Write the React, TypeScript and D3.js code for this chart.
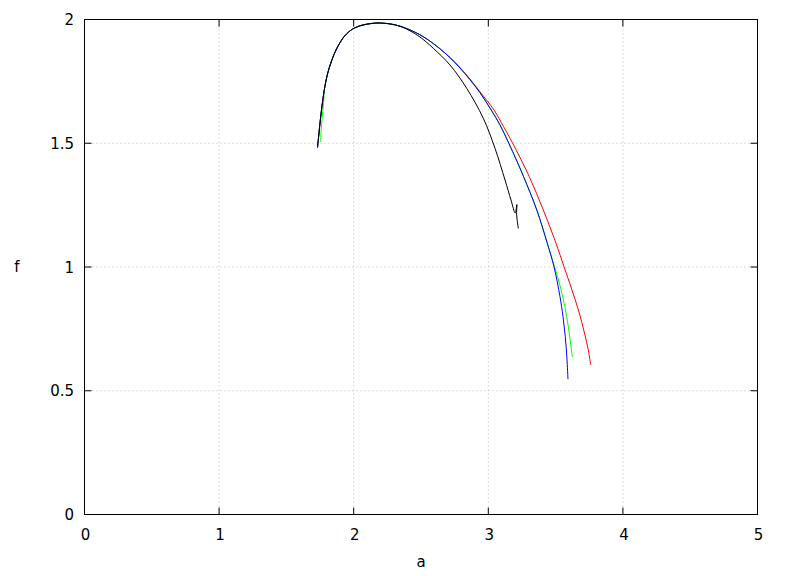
import React from "react";
import * as d3 from "d3";

type P = [number, number];

const xTicks = [0, 1, 2, 3, 4, 5];
const yTicks = [0, 0.5, 1, 1.5, 2];
const xTickLabels = ["0", "1", "2", "3", "4", "5"];
const yTickLabels = ["0", "0.5", "1", "1.5", "2"];

// shared bottom of the rising branch (red, blue, black)
const baseStart: P[] = [
  [1.7311, 1.4828], [1.7392, 1.5253], [1.7474, 1.5697], [1.7571, 1.6182], [1.7704, 1.6747],
];
// green starts slightly higher and to the right
const greenStart: P[] = [
  [1.7541, 1.5051], [1.7585, 1.5535], [1.7667, 1.6101], [1.7764, 1.6667],
];
// shared rise over the peak
const commonRise: P[] = [
  [1.7838, 1.7232], [1.8053, 1.7798], [1.8351, 1.8323], [1.8722, 1.8808], [1.9205, 1.9253],
  [1.9465, 1.9414], [1.9762, 1.9556], [2.0022, 1.9648], [2.0319, 1.9717], [2.0617, 1.977],
  [2.0966, 1.981], [2.136, 1.9842], [2.1805, 1.9859], [2.2697, 1.9822], [2.344, 1.9729],
];
// blue (and green) descent
const blueUpper: P[] = [
  [2.4183, 1.958], [2.4926, 1.9382], [2.5669, 1.9127], [2.6412, 1.8816], [2.7155, 1.8457],
  [2.7897, 1.804], [2.864, 1.7568], [2.9383, 1.7042], [3.0215, 1.6343], [3.0854, 1.5758],
  [3.1523, 1.4998], [3.2088, 1.4323], [3.2623, 1.3648], [3.3603, 1.2303], [3.4383, 1.0958],
];
const blueTail: P[] = [
  [3.4881, 1.0012], [3.5327, 0.88], [3.555, 0.8], [3.5721, 0.7184], [3.584, 0.6323], [3.5921, 0.5463],
];
const greenTail: P[] = [
  [3.4918, 1.0012], [3.5215, 0.9475], [3.555, 0.8747], [3.5824, 0.7992], [3.6055, 0.7172], [3.6241, 0.6364],
];
const redTail: P[] = [
  [2.4183, 1.958], [2.4926, 1.9382], [2.5669, 1.9127], [2.6412, 1.8816], [2.7155, 1.8465],
  [2.7897, 1.8061], [2.864, 1.7596], [2.9383, 1.7079], [3.0423, 1.6343], [3.1129, 1.5677],
  [3.1813, 1.4998], [3.3046, 1.3648], [3.4086, 1.2303], [3.503, 1.0958], [3.5624, 1.0012],
  [3.6218, 0.9071], [3.6738, 0.8182], [3.7147, 0.7333], [3.7429, 0.6646], [3.7608, 0.604],
];
const blackTail: P[] = [
  [2.4183, 1.9543], [2.4926, 1.9293], [2.5914, 1.8836], [2.7155, 1.8162], [2.8395, 1.722],
  [2.9629, 1.6008], [3.0498, 1.4796], [3.1241, 1.3515], [3.1686, 1.2707], [3.1999, 1.2182],
  [3.2125, 1.2525], [3.2103, 1.2141], [3.2229, 1.1556],
];

const redSeries: P[] = [...baseStart, ...commonRise, ...redTail];
const greenSeries: P[] = [...greenStart, ...commonRise, ...blueUpper, ...greenTail];
const blueSeries: P[] = [...baseStart, ...commonRise, ...blueUpper, ...blueTail];
const blackSeries: P[] = [...baseStart, ...commonRise, ...blackTail];

const seriesList = [
  { name: "red", color: "#ff0000", data: redSeries },
  { name: "green", color: "#00ff00", data: greenSeries },
  { name: "blue", color: "#0000ff", data: blueSeries },
  { name: "black", color: "#000000", data: blackSeries },
];

export default function App() {
  const W = 788, H = 576;
  const left = 84.5, right = 757.5, top = 19.5, bottom = 514.5;
  const x = d3.scaleLinear().domain([0, 5]).range([left, right]);
  const y = d3.scaleLinear().domain([0, 2]).range([bottom, top]);
  const line = d3
    .line<P>()
    .x((d) => x(d[0]))
    .y((d) => y(d[1]))
    .curve(d3.curveCatmullRom.alpha(0.5));
  const font = "'DejaVu Sans', sans-serif";
  const fs = 15;
  const tl = 7;
  return (
    <svg width={W} height={H} style={{ position: "absolute", left: 0, top: 0, background: "#fff" }}>
      <rect x={0} y={0} width={W} height={H} fill="#fff" />
      {xTicks.filter((t) => t > 0 && t < 5).map((t) => (
        <line key={"gx" + t} x1={x(t)} x2={x(t)} y1={bottom} y2={top} stroke="#b8b8b8" strokeWidth={1} strokeDasharray="1,3" />
      ))}
      {yTicks.filter((t) => t > 0 && t < 2).map((t) => (
        <line key={"gy" + t} x1={left} x2={right} y1={y(t)} y2={y(t)} stroke="#b8b8b8" strokeWidth={1} strokeDasharray="1,3" />
      ))}
      {xTicks.map((t) => (
        <g key={"tx" + t}>
          <line x1={x(t)} x2={x(t)} y1={bottom} y2={bottom - tl} stroke="#000" />
          <line x1={x(t)} x2={x(t)} y1={top} y2={top + tl} stroke="#000" />
        </g>
      ))}
      {yTicks.map((t) => (
        <g key={"ty" + t}>
          <line x1={left} x2={left + tl} y1={y(t)} y2={y(t)} stroke="#000" />
          <line x1={right} x2={right - tl} y1={y(t)} y2={y(t)} stroke="#000" />
        </g>
      ))}
      {seriesList.map((s) => (
        <path key={s.name} d={line(s.data) || ""} fill="none" stroke={s.color} strokeWidth={1} strokeLinejoin="round" />
      ))}
      <rect x={left} y={top} width={right - left} height={bottom - top} fill="none" stroke="#000" strokeWidth={1} />
      {xTicks.map((t, i) => (
        <text key={"lx" + t} x={x(t) + 1} y={540} textAnchor="middle" fontFamily={font} fontSize={fs} fill="#000">
          {xTickLabels[i]}
        </text>
      ))}
      {yTicks.map((t, i) => (
        <text key={"ly" + t} x={74} y={y(t) + 5.5} textAnchor="end" fontFamily={font} fontSize={fs} fill="#000">
          {yTickLabels[i]}
        </text>
      ))}
      <text x={(left + right) / 2} y={567} textAnchor="middle" fontFamily={font} fontSize={fs} fill="#000">a</text>
      <text x={17} y={272} textAnchor="middle" fontFamily={font} fontSize={fs} fill="#000">f</text>
    </svg>
  );
}
